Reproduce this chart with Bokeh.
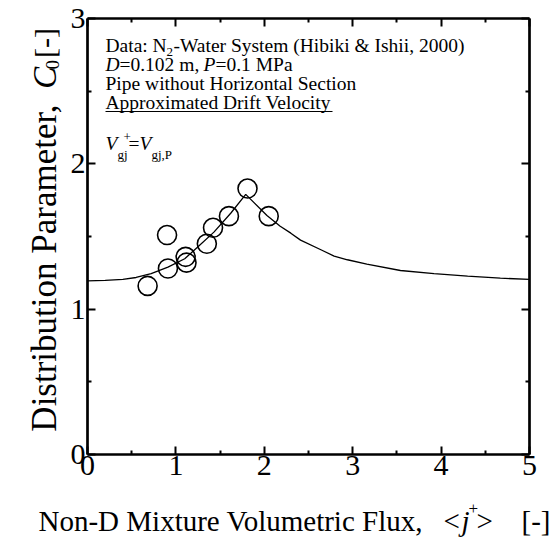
import math
from bokeh.plotting import figure
from bokeh.layouts import column, row
from bokeh.models import Range1d, LinearAxis, FixedTicker, Label
from bokeh.embed import file_html
from bokeh.resources import INLINE

# ---- data ----
x_major = [0, 1, 2, 3, 4, 5]
x_minor = [0.5, 1.5, 2.5, 3.5, 4.5]
y_major = [0, 1, 2, 3]
y_minor = [0.5, 1.5, 2.5]

data_j = [0.68, 0.90, 0.91, 1.11, 1.12, 1.35, 1.42, 1.60, 1.81, 2.05]
data_c0 = [1.16, 1.51, 1.28, 1.36, 1.32, 1.45, 1.56, 1.64, 1.83, 1.64]

model_j = [0.0, 0.20, 0.40, 0.55, 0.72, 0.91, 1.10, 1.25, 1.43, 1.62, 1.79,
           2.03, 2.18, 2.30, 2.41, 2.64, 2.79, 2.94, 3.16, 3.54, 3.92, 4.30, 4.67, 5.0]
model_c0 = [1.195, 1.198, 1.205, 1.218, 1.244, 1.289, 1.347, 1.43, 1.53, 1.66, 1.79,
            1.645, 1.57, 1.523, 1.475, 1.409, 1.365, 1.34, 1.31, 1.266, 1.244, 1.227, 1.213, 1.205]

FONT = "Liberation Serif"
W, H = 555, 542
YL_W = 65            # strip for the rotated y title
XL_H = 46            # strip for the x title
MW, MH = W - YL_W, H - XL_H
L, R, T, B = 87 - YL_W, 26, 18, MH - 454


def blank(w, h):
    f = figure(width=w, height=h, x_range=Range1d(0, w), y_range=Range1d(h, 0),
               output_backend="svg", toolbar_location=None,
               x_axis_location=None, y_axis_location=None,
               min_border=0)
    f.outline_line_color = None
    f.background_fill_color = "white"
    f.border_fill_color = "white"
    f.xgrid.visible = False
    f.ygrid.visible = False
    return f


p = figure(width=MW, height=MH, x_range=Range1d(0, 5), y_range=Range1d(0, 3),
           output_backend="svg", toolbar_location=None,
           x_axis_location=None, y_axis_location=None,
           min_border_left=L, min_border_right=R, min_border_top=T, min_border_bottom=B)
p.outline_line_color = None
p.background_fill_color = "white"
p.border_fill_color = "white"
p.xgrid.visible = False
p.ygrid.visible = False


def mk_axis(ticks, minor, show_labels):
    ax = LinearAxis(ticker=FixedTicker(ticks=ticks, minor_ticks=minor))
    ax.axis_line_width = 2.7
    ax.axis_line_color = "black"
    ax.major_tick_in = 8
    ax.major_tick_out = 0
    ax.minor_tick_in = 4
    ax.minor_tick_out = 0
    ax.major_tick_line_width = 2
    ax.minor_tick_line_width = 2
    ax.major_label_text_font = FONT
    ax.major_label_text_font_size = "30px" if show_labels else "0px"
    ax.major_label_text_color = "black" if show_labels else None
    return ax


bx = mk_axis(x_major, x_minor, True)
bx.major_label_standoff = 1
p.add_layout(bx, "below")
ly = mk_axis(y_major, y_minor, True)
ly.major_label_standoff = 2
p.add_layout(ly, "left")
p.add_layout(mk_axis(x_major, x_minor, False), "above")
p.add_layout(mk_axis(y_major, y_minor, False), "right")

p.line(model_j, model_c0, line_color="black", line_width=1.3)
p.scatter(data_j, data_c0, marker="circle", size=19, fill_color=None,
          line_color="black", line_width=1.6)

fw = MW - L - R
fh = MH - T - B


def dx(px):
    return (px - 87) / fw * 5.0


def dy(py):
    return (454 - py) / fh * 3.0


def lab(fig, x, y, text, size, style="normal", angle=0.0):
    fig.add_layout(Label(x=x, y=y, text=text, text_font=FONT,
                         text_font_size=f"{size}px", text_font_style=style,
                         text_color="black", angle=angle,
                         text_baseline="middle", text_align="left"))


def info(px, py, text, size, style="normal"):
    lab(p, dx(px), dy(py), text, size, style)


# info box (page pixel positions)
fs = 19.5
ss = 13
info(105, 45, "Data: N", fs)
info(166, 51, "2", ss)
info(173, 45, "-Water System (Hibiki & Ishii, 2000)", fs)
info(105, 64, "D", fs, "italic")
info(119, 64, "=0.102 m, ", fs)
info(203, 64, "P", fs, "italic")
info(215, 64, "=0.1 MPa", fs)
info(105, 83, "Pipe without Horizontal Section", fs)
info(105, 102, "Approximated Drift Velocity", fs)
p.segment(x0=[dx(105)], y0=[dy(111)], x1=[dx(332)], y1=[dy(111)],
          line_color="black", line_width=1)
info(105, 143, "V", fs, "italic")
info(117, 154, "gj", ss)
info(123, 136, "+", ss)
info(128, 143, "=", fs)
info(139, 143, "V", fs, "italic")
info(151, 154, "gj,P", ss)

# x axis title strip
xf = blank(W, XL_H)
xs = 29
oy = MH
lab(xf, 38, 520 - oy, "Non-D Mixture Volumetric Flux,", xs)
lab(xf, 443, 520 - oy, "<", xs)
lab(xf, 461, 520 - oy, "j", xs, "italic")
lab(xf, 468, 508 - oy, "+", 17)
lab(xf, 476, 520 - oy, ">", xs)
lab(xf, 521, 520 - oy, "[-]", xs)

# y axis title strip (rotated)
yf = blank(YL_W, MH)
a = math.pi / 2
cx = 44
lab(yf, cx, 470, "Distribution Parameter,", 35, angle=a)
lab(yf, cx, 80, "C", 33, "italic", angle=a)
lab(yf, cx + 8, 58, "0", 19, angle=a)
lab(yf, cx, 45, "[-]", 30, angle=a)

layout = column(row(yf, p, spacing=0), xf, spacing=0)
open("out.html", "w").write(file_html(layout, INLINE))
